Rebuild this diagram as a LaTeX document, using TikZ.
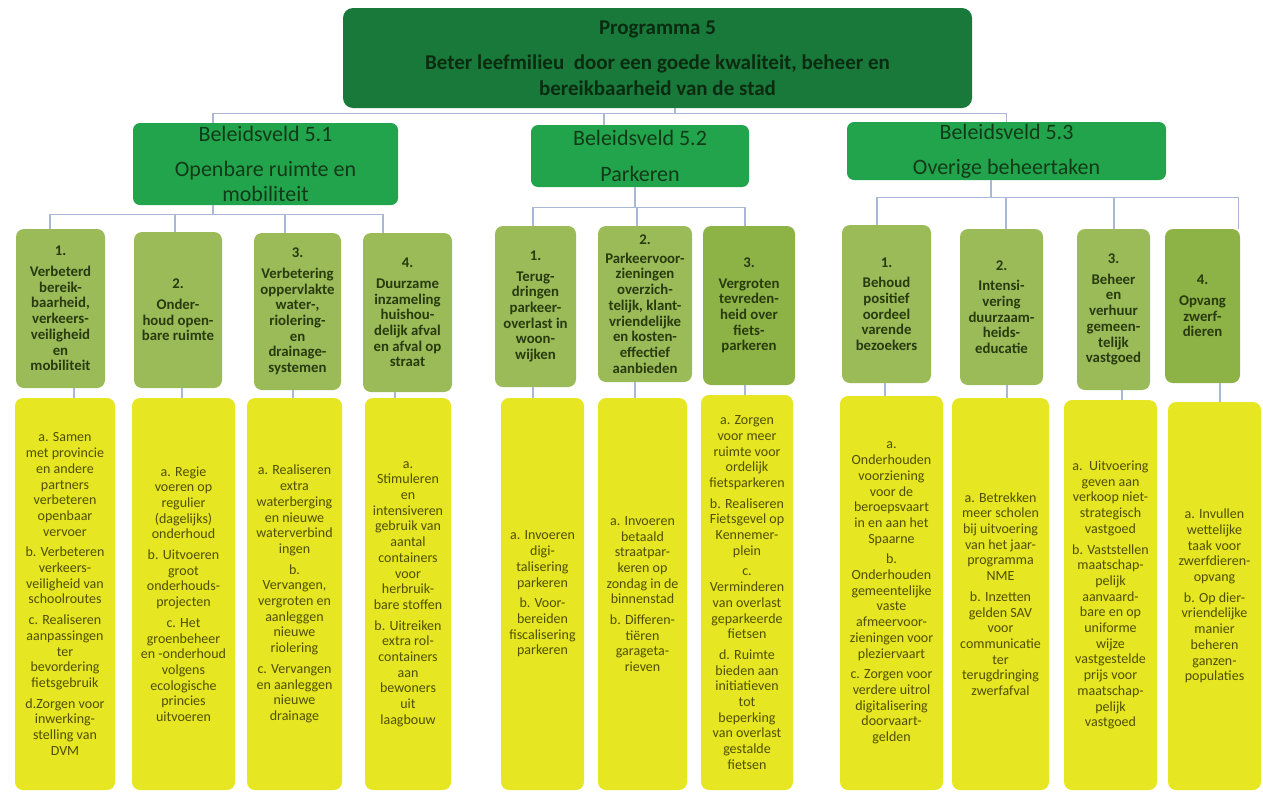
\documentclass[tikz,border=0pt]{standalone}
\usepackage{fontspec}
\setmainfont{Carlito}
\usetikzlibrary{calc}
\definecolor{topg}{HTML}{18793A}
\definecolor{bvg}{HTML}{22A44C}
\definecolor{olivea}{HTML}{9BBB59}
\definecolor{oliveb}{HTML}{8DB346}
\definecolor{yel}{HTML}{E6E622}
\definecolor{lineblue}{HTML}{A9B8D4}
\definecolor{toptext}{HTML}{0B2B10}
\definecolor{bvtext}{HTML}{123A18}
\definecolor{chtext}{HTML}{283A0E}
\definecolor{ytext}{HTML}{4F4F00}
\tikzset{
  conn/.style={draw=lineblue, line width=1.2pt},
  box/.style={inner sep=0pt, align=center, rounded corners=8pt},
  topbox/.style={box, fill=topg, text=toptext, font=\fontsize{21}{26}\selectfont\bfseries, rounded corners=10pt},
  bvbox/.style={box, fill=bvg, text=bvtext, font=\fontsize{22}{25}\selectfont, rounded corners=7pt},
  chbox/.style={box, fill=olivea, text=chtext, font=\fontsize{14.8}{15.7}\selectfont\bfseries},
  chboxd/.style={chbox, fill=oliveb},
  ybox/.style={box, fill=yel, text=ytext, font=\fontsize{14}{15.7}\selectfont},
}
\newcommand\bx[7]{\node[#6, minimum width={(#4-#2)*1pt}, minimum height={(#5-#3)*1pt}] (#1) at ({(#2+#4)/2},{(#3+#5)/2}) {#7};}
\begin{document}
\begin{tikzpicture}[x=1pt, y=-1pt]
\useasboundingbox (0,0) rectangle (1263,793);
% top
\bx{top}{343}{8}{972}{108}{topbox}{Programma 5\\[9pt]Beter leefmilieu\ \ door een goede kwaliteit, beheer en\\bereikbaarheid van de stad}
% beleidsvelden
\bx{b51}{133}{123}{398}{205}{bvbox}{Beleidsveld 5.1\\[10pt]Openbare ruimte en\\mobiliteit}
\bx{b52}{531}{125}{749}{187}{bvbox}{Beleidsveld 5.2\\[11pt]Parkeren}
\bx{b53}{847}{122}{1166}{180}{bvbox}{Beleidsveld 5.3\\[10pt]Overige beheertaken}
% children 5.1
\bx{c11}{16}{229}{105}{388}{chbox}{1.\\[5pt]Verbeterd\\bereik-\\baarheid,\\verkeers-\\veiligheid\\en\\mobiliteit}
\bx{c12}{134}{232}{222}{388}{chbox}{2.\\[5pt]Onder-\\houd open-\\bare ruimte}
\bx{c13}{254}{233}{341}{390}{chbox}{3.\\[5pt]Verbetering\\oppervlakte\\water-,\\riolering-\\en\\drainage-\\systemen}
\bx{c14}{363}{233}{452}{392}{chbox}{4.\\[5pt]Duurzame\\inzameling\\huishou-\\delijk afval\\en afval op\\straat}
% children 5.2
\bx{c21}{495}{226}{576}{387}{chbox}{1.\\[5pt]Terug-\\dringen\\parkeer-\\overlast in\\woon-\\wijken}
\bx{c22}{598}{226}{692}{382}{chbox}{2.\\[3pt]Parkeervoor-\\zieningen\\overzich-\\telijk, klant-\\vriendelijke\\en kosten-\\effectief\\aanbieden}
\bx{c23}{703}{226}{795}{385}{chboxd}{3.\\[5pt]Vergroten\\tevreden-\\heid over\\fiets-\\parkeren}
% children 5.3
\bx{c31}{842}{225}{931}{383}{chbox}{1.\\[5pt]Behoud\\positief\\oordeel\\varende\\bezoekers}
\bx{c32}{960}{229}{1043}{385}{chbox}{2.\\[5pt]Intensi-\\vering\\duurzaam-\\heids-\\educatie}
\bx{c33}{1077}{229}{1150}{390}{chbox}{3.\\[5pt]Beheer\\en\\verhuur\\gemeen-\\telijk\\vastgoed}
\bx{c34}{1165}{229}{1240}{383}{chboxd}{4.\\[5pt]Opvang\\zwerf-\\dieren}
% yellow 5.1
\bx{y11}{15}{398}{115}{790}{ybox}{a. Samen\\met provincie\\en andere\\partners\\verbeteren\\openbaar\\vervoer\\[5pt]b. Verbeteren\\verkeers-\\veiligheid van\\schoolroutes\\[5pt]c. Realiseren\\aanpassingen\\ter\\bevordering\\fietsgebruik\\[5pt]d.Zorgen voor\\inwerking-\\stelling van\\DVM}
\bx{y12}{132}{398}{235}{790}{ybox}{a. Regie\\voeren op\\regulier\\(dagelijks)\\onderhoud\\[5pt]b. Uitvoeren\\groot\\onderhouds-\\projecten\\[5pt]c. Het\\groenbeheer\\en -onderhoud\\volgens\\ecologische\\princies\\uitvoeren}
\bx{y13}{247}{398}{342}{790}{ybox}{a. Realiseren\\extra\\waterberging\\en nieuwe\\waterverbind\\ingen\\[5pt]b.\\Vervangen,\\vergroten en\\aanleggen\\nieuwe\\riolering\\[5pt]c. Vervangen\\en aanleggen\\nieuwe\\drainage}
\bx{y14}{365}{398}{451}{790}{ybox}{a.\\Stimuleren\\en\\intensiveren\\gebruik van\\aantal\\containers\\voor\\herbruik-\\bare stoffen\\[5pt]b. Uitreiken\\extra rol-\\containers\\aan\\bewoners\\uit\\laagbouw}
% yellow 5.2
\bx{y21}{501}{398}{584}{790}{ybox}{a. Invoeren\\digi-\\talisering\\parkeren\\[5pt]b. Voor-\\bereiden\\fiscalisering\\parkeren}
\bx{y22}{598}{398}{687}{790}{ybox}{a. Invoeren\\betaald\\straatpar-\\keren op\\zondag in de\\binnenstad\\[5pt]b. Differen-\\tiëren\\garageta-\\rieven}
\bx{y23}{701}{395}{793}{790}{ybox}{a. Zorgen\\voor meer\\ruimte voor\\ordelijk\\fietsparkeren\\[5pt]b. Realiseren\\Fietsgevel op\\Kennemer-\\plein\\[5pt]c.\\Verminderen\\van overlast\\geparkeerde\\fietsen\\[5pt]d. Ruimte\\bieden aan\\initiatieven\\tot\\beperking\\van overlast\\gestalde\\fietsen}
% yellow 5.3
\bx{y31}{840}{396}{943}{790}{ybox}{a.\\Onderhouden\\voorziening\\voor de\\beroepsvaart\\in en aan het\\Spaarne\\[5pt]b.\\Onderhouden\\gemeentelijke\\vaste\\afmeervoor-\\zieningen voor\\pleziervaart\\[5pt]c. Zorgen voor\\verdere uitrol\\digitalisering\\doorvaart-\\gelden}
\bx{y32}{952}{398}{1049}{790}{ybox}{a. Betrekken\\meer scholen\\bij uitvoering\\van het jaar-\\programma\\NME\\[5pt]b. Inzetten\\gelden SAV\\voor\\communicatie\\ter\\terugdringing\\zwerfafval}
\bx{y33}{1064}{400}{1157}{790}{ybox}{a.\ \ Uitvoering\\geven aan\\verkoop niet-\\strategisch\\vastgoed\\[5pt]b. Vaststellen\\maatschap-\\pelijk\\aanvaard-\\bare en op\\uniforme\\wijze\\vastgestelde\\prijs voor\\maatschap-\\pelijk\\vastgoed}
\bx{y34}{1168}{402}{1261}{790}{ybox}{a. Invullen\\wettelijke\\taak voor\\zwerfdieren-\\opvang\\[5pt]b. Op dier-\\vriendelijke\\manier\\beheren\\ganzen-\\populaties}
% connectors: programme to beleidsvelden
\coordinate (tp) at ([xshift=17.5pt]top.south);
\draw[conn] (tp) -- ($(tp)+(0,5)$);
\draw[conn] ([xshift=-52.5pt]b51.north) |- ($(tp)+(0,5)$);
\draw[conn] ([xshift=-36pt]b52.north) |- ($(tp)+(0,5)$);
\draw[conn] (b53.north) |- ($(tp)+(0,5)$);
% 5.1 children
\coordinate (p51) at ([xshift=-52.5pt]b51.south);
\draw[conn] (p51) -- ($(p51)+(0,9)$);
\foreach \c/\s in {c11/-10.5, c12/-3, c13/-12.5, c14/-24.5}
  \draw[conn] ([xshift=\s pt]\c.north) |- ($(p51)+(0,9)$);
% 5.2 children
\coordinate (p52) at ([xshift=-5pt]b52.south);
\draw[conn] (p52) -- ($(p52)+(0,20)$);
\foreach \c/\s in {c21/-2.5, c22/-8, c23/-4}
  \draw[conn] ([xshift=\s pt]\c.north) |- ($(p52)+(0,20)$);
% 5.3 children
\coordinate (p53) at ([xshift=-15.5pt]b53.south);
\draw[conn] (p53) -- ($(p53)+(0,17)$);
\foreach \c/\s in {c31/-9.5, c32/4.5, c33/0.5, c34/36}
  \draw[conn] ([xshift=\s pt]\c.north) |- ($(p53)+(0,17)$);
% children to yellow boxes
\foreach \c/\y/\s in {c11/y11/13.5, c12/y12/4, c13/y13/-4.5, c14/y14/-12.5, c21/y21/-2.5, c22/y22/-10, c23/y23/-4, c31/y31/-1.5, c32/y32/5.5, c33/y33/8.5, c34/y34/17.5}
  \draw[conn] ([xshift=\s pt]\c.south) -- ([xshift=\s pt]\c.south |- \y.north);
\end{tikzpicture}
\end{document}
